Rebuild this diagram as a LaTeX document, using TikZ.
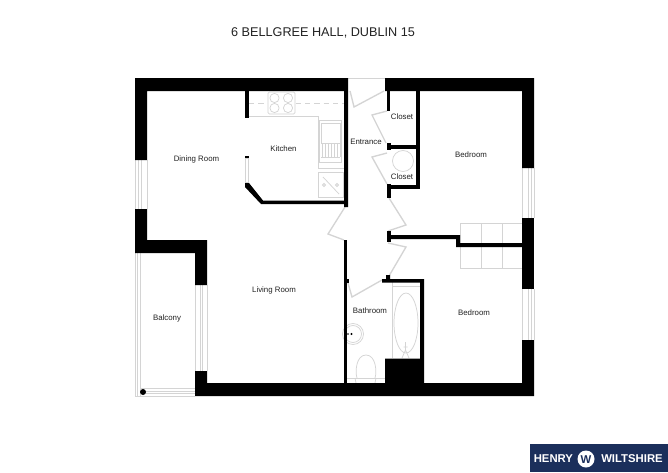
\documentclass[tikz,border=0pt]{standalone}
\usepackage{fontspec}
\setmainfont{Liberation Sans}
\definecolor{fix}{HTML}{D4D4D4}
\definecolor{navy}{HTML}{1B2F5B}
\definecolor{lab}{HTML}{222222}
\tikzset{
  wall/.style={fill=black,draw=none},
  fixture/.style={draw=fix,line width=0.55pt,fill=none},
  doorleaf/.style={draw=fix,line width=1pt,line join=miter},
  thin fix/.style={draw=fix,line width=0.45pt},
  room/.style={font=\fontsize{5.9}{7}\selectfont,text=lab,inner sep=0pt},
  logotext/.style={font=\fontsize{8.5}{10}\selectfont\bfseries,text=white,inner sep=0pt}
}
\begin{document}
\begin{tikzpicture}[x=0.75pt,y=-0.75pt]
\useasboundingbox (0,0) rectangle (668,472);
\fill[white] (0,0) rectangle (668,472);

% --- fixtures under the walls
% windows and balcony
\foreach \x in {135,138,141,147} \draw[thin fix] (\x,160) -- (\x,209);
\foreach \x in {522,528,531,534} {\draw[thin fix] (\x,168) -- (\x,218); \draw[thin fix] (\x,289) -- (\x,340);}
\foreach \x in {195,200,202,207} \draw[thin fix] (\x,285) -- (\x,371);
\foreach \x in {135,137.5,140.5} \draw[thin fix] (\x,253) -- (\x,396);
\foreach \y in {388.5,391.5,393.5,396} \draw[thin fix] (140.5,\y) -- (195,\y);
\draw[thin fix] (135,396) -- (141,396);
\fill[black] (143,392) circle (3);
\draw[thin fix] (348,78.5) -- (385,78.5);
% kitchen
\draw[fixture] (249,116) -- (318,116) -- (318,168) -- (344,168);
\draw[fixture,dashed,dash pattern=on 4pt off 3pt] (249,103) -- (344,103);
\fill[white] (268,92) rectangle (295,114);
\draw[fixture,rounded corners=1pt] (268,92) rectangle (295,114);
\foreach \x in {274.5,288} \foreach \y in {98,108} \draw[fixture] (\x,\y) circle (4.6);
\draw[fixture] (319,120) rectangle (341,162);
\draw[fixture] (321,123) rectangle (340,143);
\foreach \x in {322,325,328,331,334,337,340} \draw[fixture] (\x,143) -- (\x,157);
\draw[fixture] (321,157) -- (340,157);
\draw[fixture] (318,172) rectangle (343,197);
\draw[fixture] (323,177) -- (339,194);
\draw[fixture] (324,185) circle (1.5) (337,185) circle (1.5);
% doors
\draw[doorleaf] (350,91) -- (354,107) -- (384,91);
\draw[doorleaf] (387,111) -- (372,115) -- (386,143);
\draw[doorleaf] (387,153) -- (372,157) -- (387,184);
\draw[doorleaf] (389,198) -- (406,225) -- (388,231);
\draw[doorleaf] (388,243) -- (406,247) -- (389,276);
\draw[doorleaf] (345,207) -- (328,234) -- (344,240);
\draw[doorleaf] (348,283) -- (352,297) -- (382,280);
% closet tank
\draw[fixture] (403,161) circle (10.5);
% bedroom wardrobe
\draw[fixture] (460,223) rectangle (522,268);
\draw[fixture] (481,223) -- (481,268) (502,223) -- (502,268);
% bathroom
\draw[fixture] (392,282) -- (392,358);
\draw[fixture] (392,286) -- (420,286);
\draw[fixture] (406,323) ellipse (12 and 30);
\draw[fixture] (405.5,342) -- (405.5,350) (402,358) -- (405.5,350) -- (409,358) (403.5,347) -- (407.5,347);
\draw[fixture] (353,334) circle (10.5);
\draw[fixture] (353,334) circle (8.5);
\draw[fixture] (357,378) .. controls (355,372) and (356,355) .. (366,355) .. controls (376,355) and (377,372) .. (375,378);
\draw[fixture] (347,378) -- (385,378);
\draw[fixture] (355,378) -- (356,383) (376,378) -- (375,383);
\fill[black] (351.5,334) circle (1.2) (348,334) circle (0.8);

% --- walls
\fill[wall] (135,78) -- (348,78) -- (348,91) -- (147,91) -- (147,160) -- (135,160) -- cycle;
\fill[wall] (385,78) -- (534,78) -- (534,168) -- (522,168) -- (522,91) -- (385,91) -- cycle;
\fill[wall] (522,218) rectangle (534,289);
\fill[wall] (522,340) -- (534,340) -- (534,396) -- (195,396) -- (195,371) -- (207,371) -- (207,383) -- (522,383) -- cycle;
\fill[wall] (135,209) -- (147,209) -- (147,240) -- (207,240) -- (207,285) -- (195,285) -- (195,253) -- (135,253) -- cycle;
% kitchen walls
\fill[wall] (245,91) rectangle (249,118);
\fill[wall] (245,156) rectangle (249,158);
\fill[wall] (245,183) -- (245.5,182) -- (249,183) -- (263,200.5) -- (344,200.5) -- (344,91) -- (348,91) -- (348,207) -- (344,207) -- (344,204) -- (261,204) -- (245,187) -- cycle;
\draw[thin fix] (245.5,158) rectangle (248.5,182);
% centre walls
\fill[wall] (387,91) rectangle (390,111);
\fill[wall] (416,91) rectangle (419.5,189);
\fill[wall] (387,143) rectangle (390.5,150);
\fill[wall] (390,145) rectangle (416,149);
\fill[wall] (387,184) rectangle (390.5,198);
\fill[wall] (390,185) rectangle (416,189);
\fill[wall] (387,231) rectangle (391,242);
\fill[wall] (391,235) -- (460,235) -- (460,243) -- (522,243) -- (522,247) -- (456,247) -- (456,239) -- (391,239) -- cycle;
\fill[wall] (343.5,240) rectangle (347,383);
\fill[wall] (347,279) rectangle (349,282.5);
\fill[wall] (382,279) -- (386,279) -- (386,275) -- (390,275) -- (390,279) -- (424,279) -- (424,383) -- (385,383) -- (385,358.5) -- (420,358.5) -- (420,282.5) -- (382,282.5) -- cycle;

% --- labels
\node[font=\fontsize{9.5}{11}\selectfont,text=lab,inner sep=0pt] (title) at (323,32.5) {6 BELLGREE HALL, DUBLIN 15};
\node[room] (dining) at (196.5,159) {Dining Room};
\node[room] (kitchen) at (283.5,149) {Kitchen};
\node[room] (entrance) at (366,142) {Entrance};
\node[room] (closeta) at (402,117) {Closet};
\node[room] (closetb) at (402,177) {Closet};
\node[room] (bedrooma) at (471,155) {Bedroom};
\node[room] (bedroomb) at (474,313) {Bedroom};
\node[room] (living) at (274,290) {Living Room};
\node[room] (bath) at (370,310.5) {Bathroom};
\node[room] (balcony) at (167,318) {Balcony};

% --- logo
\fill[navy] (529.5,444) rectangle (668,472);
\node[logotext,anchor=west] (henry) at (533.5,459) {HENRY};
\node[logotext,anchor=west] (wilt) at (601,459) {WILTSHIRE};
\fill[white] (586,459) circle (8.5);
\node[font=\fontsize{8.5}{10}\selectfont\bfseries,text=navy,inner sep=0pt] (wmark) at (586,459.5) {W};
\end{tikzpicture}
\end{document}
